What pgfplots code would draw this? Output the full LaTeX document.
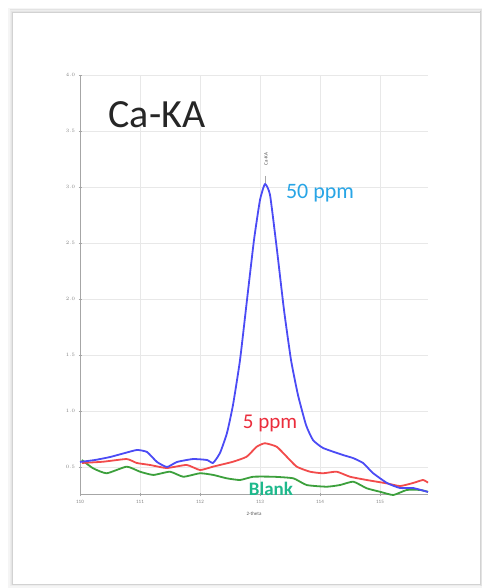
\documentclass[border=0pt]{standalone}
\usepackage{pgfplots}
\pgfplotsset{compat=1.18}
\usepackage{fontspec}
\setmainfont{Carlito}
\definecolor{cblue}{RGB}{75,75,245}
\definecolor{cred}{RGB}{242,75,75}
\definecolor{cgreen}{RGB}{60,160,60}
\definecolor{tblue}{RGB}{40,165,230}
\definecolor{tred}{RGB}{235,45,60}
\definecolor{tgreen}{RGB}{30,185,140}
\begin{document}
\begin{tikzpicture}
\path[fill=white] (0pt,0pt) rectangle (482pt,588pt);
% frame with soft shadow
\draw[black,opacity=0.04,line width=2pt] (9pt,1pt) rectangle (481pt,579pt);
\draw[black,opacity=0.07,line width=1.5pt] (10.5pt,2.5pt) rectangle (481pt,578pt);
\draw[black,opacity=0.10,line width=1.2pt] (11.5pt,3.5pt) rectangle (480.5pt,576.5pt);
\draw[gray!35,line width=0.8pt] (12pt,4pt) rectangle (480pt,576pt);
\begin{axis}[
  at={(80pt,93pt)}, anchor=south west,
  width=348pt, height=420pt, scale only axis,
  xmin=110, xmax=115.8, ymin=0.25, ymax=4.0,
  xtick={110,111,112,113,114,115},
  xticklabels={110,111,112,113,114,115},
  ytick={0.5,1,1.5,2,2.5,3,3.5,4},
  grid=major, grid style={gray!18, line width=0.8pt},
  axis x line=bottom, axis y line=left,
  axis line style={gray!70, line width=1pt, -},
  tick style={gray!70, line width=0.8pt},
  major tick length=3pt,
  ticklabel style={font=\fontsize{5}{6}\selectfont, text=gray},
  yticklabel style={/pgf/number format/fixed, /pgf/number format/fixed zerofill, /pgf/number format/precision=1},
  xlabel={2-theta},
  xlabel style={font=\fontsize{5}{6}\selectfont, text=gray!70!black, yshift=-2pt},
  clip=false,
]
% Blank
\addplot[cgreen, line width=1.8pt, smooth, tension=0.3, line join=round] coordinates {
(110.03,0.5625) (110.22,0.488) (110.445,0.444) (110.778,0.503) (111.0,0.458)
(111.222,0.429) (111.5,0.458) (111.722,0.413) (112.0,0.444) (112.222,0.429)
(112.445,0.399) (112.667,0.384) (112.888,0.413) (113.222,0.413) (113.555,0.399)
(113.778,0.339) (114.112,0.324) (114.333,0.339) (114.555,0.369) (114.778,0.310)
(115.0,0.279) (115.222,0.25) (115.445,0.295) (115.667,0.295) (115.8,0.279)
};
% 5 ppm
\addplot[cred, line width=1.8pt, smooth, tension=0.3, line join=round] coordinates {
(110.03,0.536) (110.383,0.547) (110.778,0.571) (110.945,0.536) (111.167,0.518)
(111.445,0.491) (111.778,0.518) (112.0,0.473) (112.217,0.503) (112.55,0.547)
(112.778,0.592) (112.945,0.681) (113.083,0.712) (113.278,0.681) (113.445,0.592)
(113.612,0.503) (113.833,0.458) (114.05,0.444) (114.278,0.458) (114.5,0.413)
(114.778,0.384) (115.112,0.354) (115.333,0.330) (115.55,0.357) (115.717,0.384)
(115.8,0.360)
};
% 50 ppm
\addplot[cblue, line width=1.8pt, smooth, tension=0.3, line join=round] coordinates {
(110.0,0.545) (110.25,0.5625) (110.5,0.589) (110.75,0.625) (110.95,0.652)
(111.117,0.634) (111.283,0.545) (111.45,0.50) (111.617,0.545) (111.883,0.571)
(112.117,0.5625) (112.217,0.536) (112.333,0.625) (112.45,0.804) (112.55,1.054)
(112.667,1.455) (112.783,1.991) (112.9,2.527) (113.0,2.884) (113.083,3.027)
(113.167,2.929) (113.283,2.4375) (113.4,1.902) (113.517,1.455) (113.633,1.143)
(113.767,0.875) (113.883,0.741) (114.05,0.67) (114.383,0.607) (114.55,0.58)
(114.717,0.536) (114.883,0.446) (115.117,0.357) (115.333,0.3125) (115.55,0.3125)
(115.8,0.277)
};
\node[font=\fontsize{40}{44}\selectfont, text=black!85] at (axis cs:111.283,3.643) {Ca-KA};
\node[font=\fontsize{22}{24}\selectfont, text=tblue] at (axis cs:114.0,2.946) {50 ppm};
\node[font=\fontsize{21}{24}\selectfont, text=tred] at (axis cs:113.167,0.893) {5 ppm};
\node[font=\bfseries\fontsize{19}{22}\selectfont, text=tgreen] at (axis cs:113.183,0.30) {Blank};
\node[font=\fontsize{5}{6}\selectfont, text=black!70, rotate=90] at (axis cs:113.1,3.25) {Ca-KA};
\draw[gray!70, line width=0.6pt] (axis cs:113.083,3.10) -- (axis cs:113.083,3.04);
\end{axis}
\end{tikzpicture}
\end{document}
